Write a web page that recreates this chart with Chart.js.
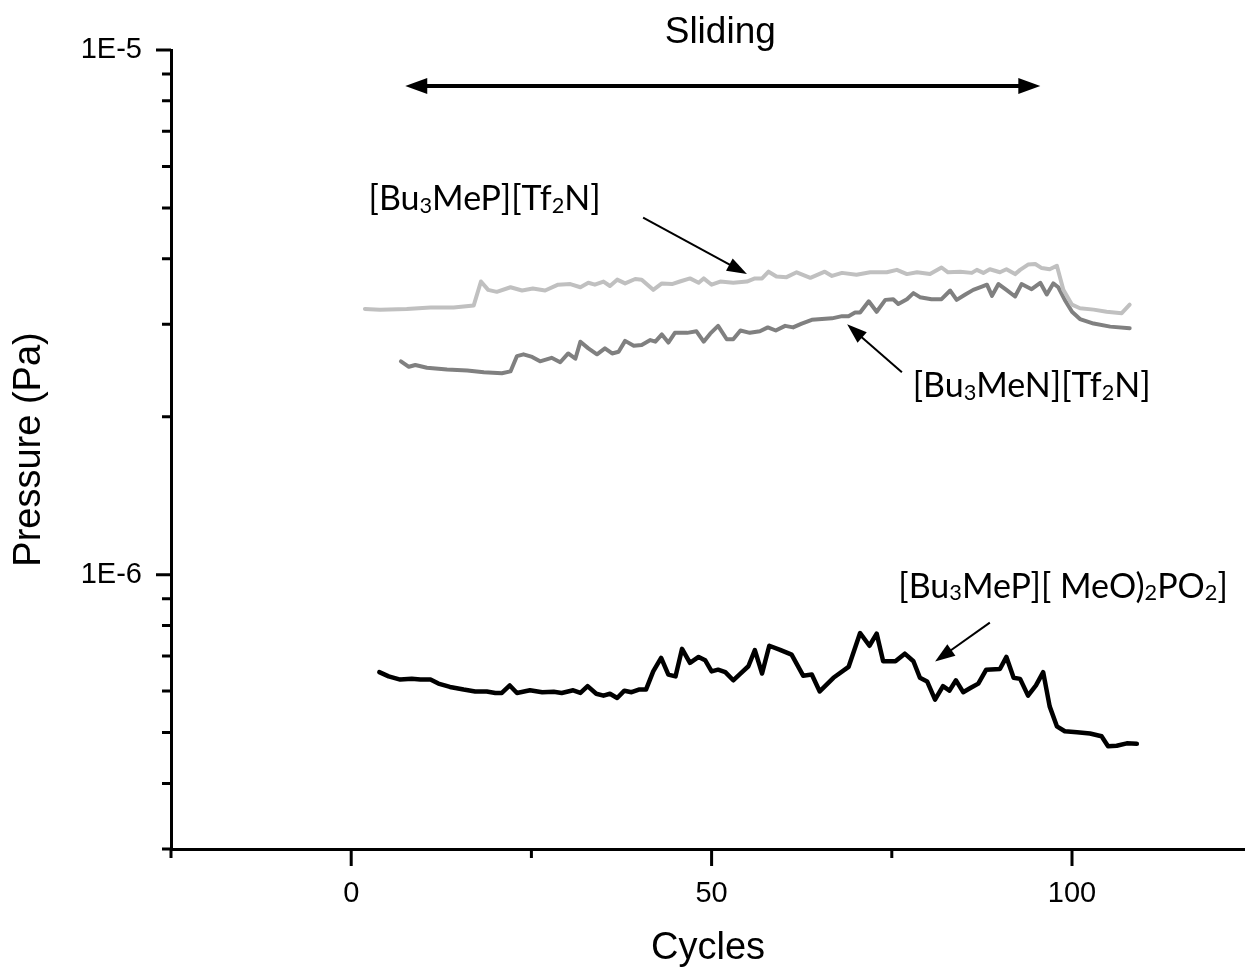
<!DOCTYPE html>
<html>
<head>
<meta charset="utf-8">
<script src="https://cdn.jsdelivr.net/npm/chart.js@4"></script>
<style>
  body { margin: 0; background: #fff; }
  #wrap { width: 1245px; height: 971px; }
</style>
</head>
<body>
<div id="wrap"><canvas id="pressureChart"></canvas></div>
<script>
// pressure values are in units of 1e-6 Pa

// [Bu3MeP][Tf2N]
const cyclesMePTf2N = [1.9, 4.0, 7.7, 11.0, 14.2, 17.0, 18.0, 19.0, 20.2, 22.1, 23.7, 25.2, 26.9, 28.7, 30.4, 31.8, 32.9, 33.8, 35.0, 35.9, 36.9, 38.0, 39.4, 40.3, 41.9, 43.1, 44.5, 45.6, 47.0, 48.2, 48.9, 50.0, 51.2, 53.0, 54.9, 56.0, 57.0, 57.9, 59.0, 60.4, 61.8, 63.7, 65.7, 66.7, 68.1, 70.1, 72.0, 74.3, 75.7, 77.1, 78.5, 80.3, 81.9, 82.8, 84.5, 86.1, 86.8, 87.7, 88.6, 90.0, 90.9, 92.1, 92.8, 93.9, 94.9, 95.8, 96.9, 97.9, 98.8, 100.0, 101.1, 103.0, 104.8, 106.9, 108.0];
const pressureMePTf2N = [3.21, 3.20, 3.21, 3.23, 3.23, 3.26, 3.62, 3.49, 3.46, 3.53, 3.48, 3.51, 3.48, 3.57, 3.58, 3.53, 3.60, 3.57, 3.62, 3.55, 3.65, 3.59, 3.66, 3.65, 3.49, 3.59, 3.58, 3.62, 3.67, 3.60, 3.67, 3.57, 3.62, 3.60, 3.62, 3.67, 3.67, 3.78, 3.70, 3.69, 3.77, 3.68, 3.78, 3.71, 3.76, 3.73, 3.77, 3.77, 3.81, 3.74, 3.77, 3.74, 3.85, 3.77, 3.78, 3.76, 3.81, 3.76, 3.82, 3.77, 3.82, 3.74, 3.81, 3.90, 3.91, 3.84, 3.82, 3.88, 3.49, 3.27, 3.22, 3.20, 3.17, 3.15, 3.27];

// [Bu3MeN][Tf2N]
const cyclesMeNTf2N = [6.9, 8.0, 8.9, 10.5, 13.3, 16.1, 18.4, 20.9, 22.1, 23.0, 23.9, 25.1, 26.2, 27.8, 29.0, 30.1, 31.1, 31.8, 32.9, 34.1, 35.2, 36.2, 37.1, 38.0, 39.2, 40.3, 41.5, 42.2, 43.1, 44.0, 44.9, 46.6, 47.9, 48.9, 49.8, 50.9, 52.1, 53.0, 54.0, 55.3, 56.7, 57.8, 58.9, 60.2, 61.3, 62.5, 63.9, 65.3, 66.7, 68.1, 69.0, 69.9, 70.6, 71.8, 72.9, 74.1, 75.2, 75.9, 77.1, 78.0, 78.9, 80.5, 81.9, 83.1, 84.0, 85.2, 86.3, 87.5, 88.2, 88.9, 89.8, 90.9, 92.1, 93.0, 94.4, 95.6, 96.5, 97.4, 98.1, 99.0, 100.0, 101.1, 103.0, 105.3, 108.0];
const pressureMeNTf2N = [2.55, 2.49, 2.51, 2.48, 2.46, 2.45, 2.43, 2.42, 2.44, 2.61, 2.63, 2.60, 2.55, 2.59, 2.54, 2.64, 2.58, 2.78, 2.70, 2.63, 2.70, 2.64, 2.66, 2.79, 2.73, 2.74, 2.80, 2.78, 2.87, 2.77, 2.89, 2.89, 2.91, 2.78, 2.88, 2.98, 2.81, 2.81, 2.92, 2.89, 2.91, 2.96, 2.92, 2.98, 2.96, 3.01, 3.06, 3.07, 3.08, 3.11, 3.11, 3.16, 3.16, 3.32, 3.17, 3.34, 3.35, 3.28, 3.35, 3.44, 3.38, 3.35, 3.35, 3.48, 3.34, 3.42, 3.49, 3.54, 3.57, 3.40, 3.58, 3.49, 3.39, 3.58, 3.50, 3.60, 3.42, 3.59, 3.53, 3.34, 3.17, 3.07, 3.01, 2.97, 2.95];

// [Bu3MeP][(MeO)2PO2]
const cyclesMePPhos = [3.9, 5.2, 6.8, 8.4, 9.6, 11.0, 12.1, 13.7, 15.6, 17.2, 18.8, 20.0, 20.9, 22.0, 23.0, 24.8, 26.5, 28.1, 29.2, 30.8, 31.8, 32.8, 34.0, 35.0, 35.9, 36.9, 37.9, 38.9, 39.9, 40.9, 41.9, 43.0, 44.0, 45.0, 45.9, 47.0, 48.2, 49.1, 50.0, 50.9, 51.9, 53.0, 54.0, 55.1, 56.0, 57.0, 58.0, 59.5, 61.1, 62.7, 63.9, 65.0, 66.9, 69.0, 70.6, 71.9, 72.9, 73.8, 75.5, 76.8, 78.0, 78.9, 79.9, 81.0, 82.1, 83.0, 83.9, 84.9, 85.9, 87.0, 88.1, 90.0, 90.9, 91.9, 92.8, 93.9, 95.0, 96.0, 96.9, 97.9, 99.0, 100.7, 102.5, 104.1, 105.0, 106.2, 107.6, 109.0];
const pressureMePPhos = [0.652, 0.640, 0.631, 0.633, 0.631, 0.631, 0.620, 0.611, 0.604, 0.599, 0.599, 0.595, 0.595, 0.615, 0.595, 0.602, 0.597, 0.598, 0.595, 0.602, 0.595, 0.613, 0.593, 0.588, 0.593, 0.582, 0.601, 0.597, 0.604, 0.604, 0.654, 0.694, 0.645, 0.640, 0.722, 0.679, 0.697, 0.687, 0.654, 0.659, 0.652, 0.629, 0.648, 0.669, 0.718, 0.648, 0.732, 0.719, 0.704, 0.642, 0.645, 0.599, 0.636, 0.667, 0.774, 0.732, 0.772, 0.684, 0.684, 0.707, 0.684, 0.636, 0.626, 0.578, 0.613, 0.601, 0.629, 0.597, 0.608, 0.620, 0.659, 0.661, 0.697, 0.636, 0.633, 0.588, 0.615, 0.652, 0.561, 0.514, 0.503, 0.501, 0.498, 0.492, 0.471, 0.472, 0.477, 0.476];

// axes
const xTickValues = [-25, 0, 25, 50, 75, 100];
const xMajorTicks = [0, 50, 100];
const yTickValues = [3e-7, 4e-7, 5e-7, 6e-7, 7e-7, 8e-7, 9e-7, 1e-6, 2e-6, 3e-6, 4e-6, 5e-6, 6e-6, 7e-6, 8e-6, 9e-6, 1e-5];
const yMajorTicks = [1e-6, 1e-5];
const yMajorLabels = ["1E-6", "1E-5"];

const AXIS_FONT = "'Liberation Sans', Arial, sans-serif";
const NOTE_FONT = "Lato, 'Open Sans', sans-serif";

function toPoints(cycles, pressure) {
  return cycles.map((c, i) => ({ x: c, y: pressure[i] * 1e-6 }));
}

function isMajorY(v) {
  return yMajorTicks.findIndex((m) => Math.abs(v - m) / m < 1e-6);
}

// text parts: [text, isSubscript]
const notes = [
  {
    parts: [["[Bu", 0], ["3", 1], ["MeP][Tf", 0], ["2", 1], ["N]", 0]],
    at: { x: 2.4, y: 5.2e-6 },
    arrow: { from: { x: 40.5, y: 4.79e-6 }, to: { x: 54.9, y: 3.74e-6 } },
  },
  {
    parts: [["[Bu", 0], ["3", 1], ["MeN][Tf", 0], ["2", 1], ["N]", 0]],
    at: { x: 77.9, y: 2.29e-6 },
    arrow: { from: { x: 76.4, y: 2.43e-6 }, to: { x: 68.8, y: 3.0e-6 } },
  },
  {
    parts: [["[Bu", 0], ["3", 1], ["MeP][ MeO)", 0], ["2", 1], ["PO", 0], ["2", 1], ["]", 0]],
    at: { x: 75.9, y: 9.49e-7 },
    arrow: { from: { x: 88.6, y: 8.1e-7 }, to: { x: 81.0, y: 6.83e-7 } },
  },
];

function arrowHead(ctx, x1, y1, x2, y2, len, half) {
  const a = Math.atan2(y2 - y1, x2 - x1);
  ctx.beginPath();
  ctx.moveTo(x2, y2);
  ctx.lineTo(x2 - len * Math.cos(a) + half * Math.sin(a), y2 - len * Math.sin(a) - half * Math.cos(a));
  ctx.lineTo(x2 - len * Math.cos(a) - half * Math.sin(a), y2 - len * Math.sin(a) + half * Math.cos(a));
  ctx.closePath();
  ctx.fill();
}

function drawArrow(ctx, x1, y1, x2, y2, width, len, half, both) {
  const a = Math.atan2(y2 - y1, x2 - x1);
  ctx.lineWidth = width;
  ctx.beginPath();
  ctx.moveTo(both ? x1 + len * 0.8 * Math.cos(a) : x1, both ? y1 + len * 0.8 * Math.sin(a) : y1);
  ctx.lineTo(x2 - len * 0.8 * Math.cos(a), y2 - len * 0.8 * Math.sin(a));
  ctx.stroke();
  arrowHead(ctx, x1, y1, x2, y2, len, half);
  if (both) arrowHead(ctx, x2, y2, x1, y1, len, half);
}

function drawRichText(ctx, parts, x, y, size) {
  ctx.textBaseline = "middle";
  ctx.textAlign = "left";
  parts.forEach(([t, sub]) => {
    const s = sub ? size * 0.64 : size;
    ctx.font = s + "px " + NOTE_FONT;
    ctx.fillText(t, x, sub ? y + size * 0.2 : y);
    x += ctx.measureText(t).width;
  });
}

const tickMarks = {
  id: "tickMarks",
  afterDraw(chart) {
    const { ctx, chartArea, scales } = chart;
    ctx.save();
    ctx.strokeStyle = "#000";
    ctx.lineWidth = 3;
    ctx.beginPath();
    scales.x.ticks.forEach((t) => {
      const px = scales.x.getPixelForValue(t.value);
      const len = xMajorTicks.includes(t.value) ? 17 : 9;
      ctx.moveTo(px, chartArea.bottom);
      ctx.lineTo(px, chartArea.bottom + len);
    });
    scales.y.ticks.forEach((t) => {
      const py = scales.y.getPixelForValue(t.value);
      const len = isMajorY(t.value) >= 0 ? 15 : 9;
      ctx.moveTo(chartArea.left, py);
      ctx.lineTo(chartArea.left - len, py);
    });
    ctx.stroke();
    ctx.restore();
  },
};

const annotations = {
  id: "annotations",
  afterDatasetsDraw(chart) {
    const { ctx, scales: { x, y } } = chart;
    ctx.save();
    ctx.fillStyle = "#000";
    ctx.strokeStyle = "#000";

    // sliding period
    const sy = y.getPixelForValue(8.54e-6);
    drawArrow(ctx, x.getPixelForValue(7.5), sy, x.getPixelForValue(95.6), sy, 4, 22, 8, true);
    ctx.font = "37px " + AXIS_FONT;
    ctx.textAlign = "center";
    ctx.textBaseline = "middle";
    ctx.fillText("Sliding", x.getPixelForValue(51.2), y.getPixelForValue(1.077e-5));

    notes.forEach((n) => {
      drawRichText(ctx, n.parts, x.getPixelForValue(n.at.x), y.getPixelForValue(n.at.y), 34);
      const a = n.arrow;
      drawArrow(ctx,
        x.getPixelForValue(a.from.x), y.getPixelForValue(a.from.y),
        x.getPixelForValue(a.to.x), y.getPixelForValue(a.to.y), 2, 20, 7, false);
    });
    ctx.restore();
  },
};

const lineStyle = { showLine: true, pointRadius: 0, tension: 0, borderJoinStyle: "round", borderCapStyle: "round", fill: false };

new Chart(document.getElementById("pressureChart"), {
  type: "scatter",
  data: {
    datasets: [
      { label: "[Bu3MeP][Tf2N]", data: toPoints(cyclesMePTf2N, pressureMePTf2N), borderColor: "#c0c0c0", borderWidth: 4, ...lineStyle },
      { label: "[Bu3MeN][Tf2N]", data: toPoints(cyclesMeNTf2N, pressureMeNTf2N), borderColor: "#808080", borderWidth: 4, ...lineStyle },
      { label: "[Bu3MeP][(MeO)2PO2]", data: toPoints(cyclesMePPhos, pressureMePPhos), borderColor: "#000000", borderWidth: 4.5, ...lineStyle },
    ],
  },
  options: {
    responsive: true,
    maintainAspectRatio: false,
    animation: false,
    layout: { padding: { top: 50, right: 0, bottom: 0, left: 0 } },
    plugins: {
      legend: { display: false },
      tooltip: { enabled: false },
    },
    scales: {
      x: {
        type: "linear",
        min: -25,
        max: 124,
        afterBuildTicks: (scale) => {
          scale.ticks = xTickValues.map((v) => ({ value: v }));
        },
        afterFit: (scale) => {
          scale.height = 122;
        },
        grid: { display: false, drawTicks: false },
        border: { display: true, color: "#000", width: 3 },
        ticks: {
          autoSkip: false,
          maxRotation: 0,
          padding: 28,
          color: "#000",
          font: { family: AXIS_FONT, size: 29 },
          callback: (v) => (xMajorTicks.includes(v) ? String(v) : ""),
        },
        title: {
          display: true,
          text: "Cycles",
          color: "#000",
          padding: { top: 0, bottom: 0 },
          font: { family: AXIS_FONT, size: 38 },
        },
      },
      y: {
        type: "logarithmic",
        min: 3e-7,
        max: 1e-5,
        afterBuildTicks: (scale) => {
          scale.ticks = yTickValues.map((v) => ({ value: v }));
        },
        afterFit: (scale) => {
          scale.width = 171;
        },
        grid: { display: false, drawTicks: false },
        border: { display: true, color: "#000", width: 3 },
        ticks: {
          autoSkip: false,
          padding: 29,
          color: "#000",
          font: { family: AXIS_FONT, size: 29 },
          callback: (v) => {
            const i = isMajorY(v);
            return i >= 0 ? yMajorLabels[i] : "";
          },
        },
        title: {
          display: true,
          text: "Pressure (Pa)",
          color: "#000",
          padding: { top: 7, bottom: 0 },
          font: { family: AXIS_FONT, size: 38 },
        },
      },
    },
  },
  plugins: [tickMarks, annotations],
});
</script>
</body>
</html>
